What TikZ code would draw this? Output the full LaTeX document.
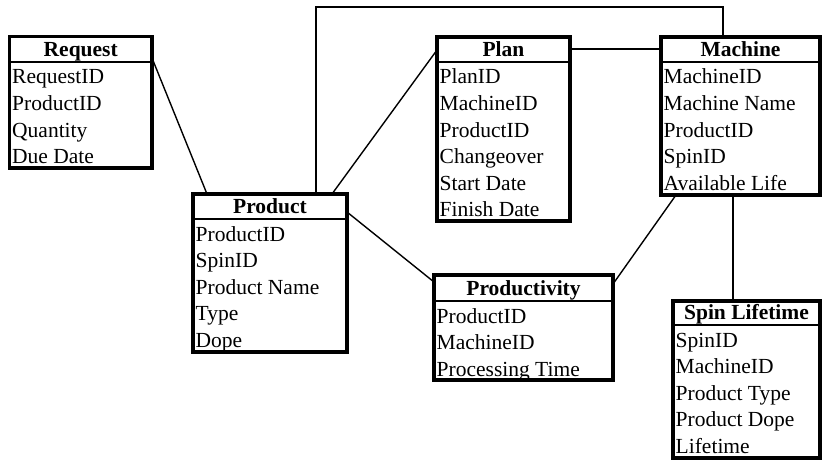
\documentclass[tikz,border=0pt]{standalone}
\usepackage{fontspec}
\setmainfont{Liberation Serif}
\usetikzlibrary{calc}

\tikzset{
  tblbox/.style={draw, fill=white, line width=3.2pt, outer sep=0pt, inner sep=0pt},
  hdrline/.style={line width=2.4pt},
  ertitle/.style={anchor=base, inner sep=0pt, font=\fontsize{21.5}{25}\selectfont\bfseries},
  errow/.style={anchor=base west, inner sep=0pt, font=\fontsize{21.5}{25}\selectfont},
  link/.style={line width=1.4pt}
}

% #1 entity name, #2 header height, #3 title, #4 attribute list
\newcommand\erentity[4]{%
  \draw[hdrline] ($(#1.north west)+(0,#2)$) -- ($(#1.north east)+(0,#2)$);
  \node[ertitle] (#1-t) at ($(#1.north)+(0,{#2-5.5})$) {#3};
  \foreach \r [count=\i] in {#4}
    \node[errow] (#1-\i) at ($(#1.north west)+(2.5,{#2+22+(\i-1)*26.5})$) {\r};
}

\begin{document}
\begin{tikzpicture}[x=1pt,y=-1pt]
\useasboundingbox (0,0) rectangle (822,460);

% entity frames
\node[tblbox, minimum width=142.5pt, minimum height=131.5pt] (req)  at (80.75,102.25) {};
\node[tblbox, minimum width=154pt,   minimum height=158pt]   (prod) at (270,273) {};
\node[tblbox, minimum width=133pt,   minimum height=184pt]   (plan) at (503.5,129) {};
\node[tblbox, minimum width=159pt,   minimum height=158pt]   (mach) at (740.5,116) {};
\node[tblbox, minimum width=179pt,   minimum height=105pt]   (pty)  at (523.5,327.5) {};
\node[tblbox, minimum width=147pt,   minimum height=157pt]   (spin) at (746.5,379.5) {};

% relationships
\draw[link] ($(req.north east)+(0,21.5)$) -- ($(prod.north west)+(14,0)$);
\draw[link] ($(prod.north west)+(123,0)$) |- ($(mach.north west)+(62,-30)$)
            -- ($(mach.north west)+(62,0)$);
\draw[link] ($(prod.north west)+(139,0)$) -- ($(plan.north west)+(0,13)$);
\draw[link] ($(plan.north east)+(0,12)$) -- ($(mach.north west)+(0,12)$);
\draw[link] ($(prod.north east)+(0,18)$) -- ($(pty.north west)+(0,7)$);
\draw[link] ($(pty.north east)+(0,9)$) -- ($(mach.south west)+(15,0)$);
\draw[link] ($(mach.south west)+(72,0)$) -- ($(spin.north west)+(60,0)$);

% entity contents
\erentity{req}{25.5}{Request}{RequestID,ProductID,Quantity,Due Date}
\erentity{prod}{25}{Product}{ProductID,SpinID,Product Name,Type,Dope}
\erentity{plan}{25}{Plan}{PlanID,MachineID,ProductID,Changeover,Start Date,Finish Date}
\erentity{mach}{25}{Machine}{MachineID,Machine Name,ProductID,SpinID,Available Life}
\erentity{pty}{26}{Productivity}{ProductID,MachineID,Processing Time}
\erentity{spin}{24}{Spin Lifetime}{SpinID,MachineID,Product Type,Product Dope,Lifetime}
\end{tikzpicture}
\end{document}
